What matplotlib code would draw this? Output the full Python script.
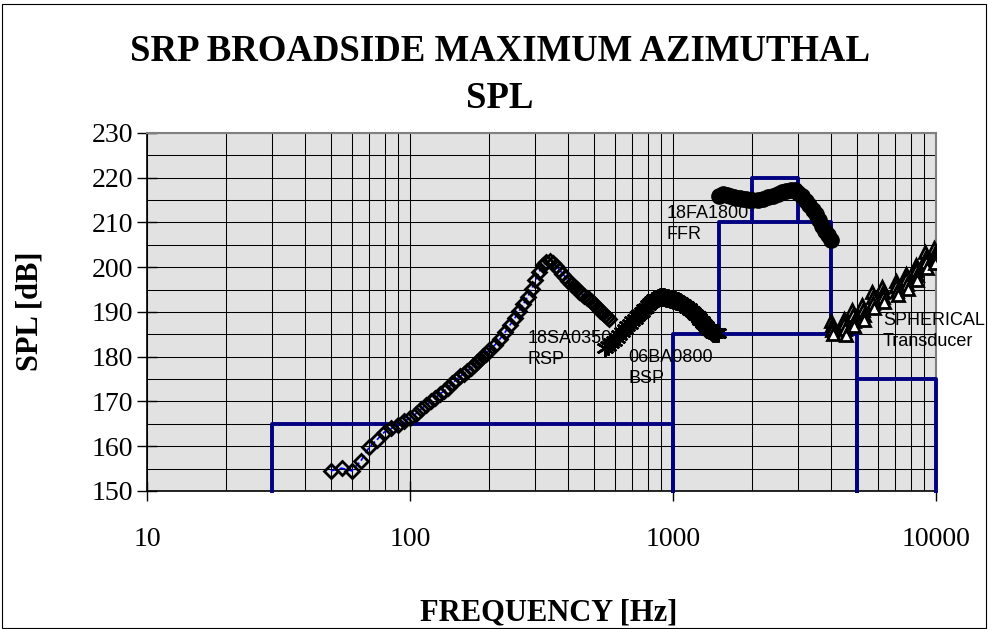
import matplotlib
matplotlib.use('Agg')
import matplotlib.pyplot as plt
from matplotlib.ticker import LogLocator, MultipleLocator, FixedLocator, NullFormatter, FixedFormatter
from matplotlib.patches import Rectangle

# 18SA0350 RSP (open diamonds, blue dashed line)
rsp_freq = [50, 55, 60, 65, 70, 75, 80, 85, 90, 95, 100, 105, 110, 115, 120, 125,
            130, 135, 140, 145, 150, 155, 160, 165, 170, 175, 180, 185, 190, 195,
            200, 210, 220, 230, 240, 250, 260, 270, 280, 290, 300, 310, 320, 330,
            340, 350, 360, 370, 380, 390, 400, 410, 420, 430, 440, 450, 460, 470,
            480, 490, 500, 510, 520, 530, 540, 550, 560, 570]
rsp_spl = [154.5, 155.1, 154.5, 156.7, 159.8, 161.5, 163.2, 164.0, 164.8, 165.6,
           166.3, 167.2, 168.3, 169.2, 170.0, 170.8, 171.7, 172.4, 173.1, 174.1,
           174.9, 175.6, 176.2, 176.8, 177.4, 178.1, 178.8, 179.4, 180.1, 180.7,
           181.4, 182.6, 184.0, 185.5, 187.1, 188.6, 190.2, 191.8, 193.4, 195.2,
           197.1, 199.0, 200.4, 201.2, 201.5, 201.0, 200.2, 199.4, 198.6, 197.8,
           197.0, 196.3, 195.7, 195.1, 194.5, 194.0, 193.6, 193.2, 192.8, 192.3,
           191.8, 191.3, 190.8, 190.3, 189.8, 189.3, 188.9, 188.5]

# 06BA0800 BSP (asterisks)
bsp_freq = [550, 565, 580, 595, 610, 625, 640, 655, 670, 685, 700, 715, 730, 745,
            760, 775, 790, 805, 820, 835, 850, 865, 880, 895, 910, 925, 940, 955,
            970, 985, 1000, 1015, 1030, 1045, 1060, 1075, 1090, 1105, 1120, 1135,
            1150, 1165, 1180, 1195, 1210, 1225, 1240, 1255, 1270, 1285, 1300, 1315,
            1330, 1345, 1360, 1375, 1390, 1405, 1420, 1435, 1450, 1465, 1480]
bsp_spl = [182.0, 182.4, 183.0, 183.6, 184.2, 184.8, 185.5, 186.1, 186.8, 187.4,
           188.0, 188.5, 189.0, 189.5, 190.0, 190.6, 191.0, 191.5, 192.0, 192.4,
           192.8, 193.0, 193.2, 193.3, 193.3, 193.3, 193.2, 193.1, 193.0, 192.9,
           192.7, 192.6, 192.5, 192.4, 192.2, 192.0, 191.8, 191.5, 191.3, 191.0,
           190.8, 190.5, 190.2, 189.9, 189.6, 189.3, 189.0, 188.7, 188.3, 188.0,
           187.6, 187.3, 186.9, 186.5, 186.2, 185.9, 185.7, 185.5, 185.4, 185.3,
           185.2, 185.2, 185.2]

# 18FA1800 FFR (filled circles)
ffr_freq = [1500, 1550, 1600, 1650, 1700, 1750, 1800, 1850, 1900, 1950, 2000, 2100,
            2200, 2300, 2400, 2500, 2600, 2700, 2800, 2900, 3000, 3100, 3200, 3300,
            3400, 3500, 3600, 3700, 3800, 3900, 4000]
ffr_spl = [216.0, 216.3, 216.2, 216.0, 215.7, 215.5, 215.4, 215.3, 215.2, 215.1,
           215.1, 215.1, 215.3, 215.6, 216.0, 216.4, 216.8, 217.1, 217.3, 217.2,
           216.7, 215.9, 214.9, 213.8, 212.8, 211.8, 210.6, 209.3, 208.2, 207.1,
           206.1]

# SPHERICAL Transducer (open triangles, stepped stacks)
sph_freq = [4000, 4020, 4040, 4060, 4450, 4480, 4510, 4540, 4800, 4830, 4860, 4890,
            5250, 5280, 5310, 5340, 5720, 5750, 5780, 5810, 6250, 6280, 6310, 6340,
            7020, 7060, 7100, 7140, 7680, 7720, 7760, 7800, 8380, 8420, 8460, 8500,
            9120, 9160, 9200, 9240, 9850, 9880, 9910, 9940]
sph_spl = [188.0, 187.0, 186.0, 185.0, 188.5, 187.3, 186.1, 184.9, 190.5, 189.3,
           188.1, 186.9, 191.5, 190.4, 189.3, 188.2, 194.5, 193.3, 192.1, 190.9,
           195.5, 194.4, 193.3, 192.2, 197.0, 195.9, 194.8, 193.7, 198.5, 197.4,
           196.3, 195.2, 200.5, 199.4, 198.3, 197.2, 203.5, 202.3, 201.1, 199.9,
           204.3, 203.2, 202.1, 201.0]

# criteria limit steps (frequency, SPL)
lim_rsp_f = [30, 30, 1000, 1000]
lim_rsp_s = [150, 165, 165, 150]
lim_bsp_f = [1000, 1000, 5000, 5000]
lim_bsp_s = [150, 185, 185, 150]
lim_ffr_f = [1500, 1500, 4000, 4000]
lim_ffr_s = [185, 210, 210, 185]
lim_ffr2_f = [2000, 2000, 3000, 3000]
lim_ffr2_s = [210, 220, 220, 210]
lim_sph_f = [5000, 5000, 10000, 10000]
lim_sph_s = [150, 175, 175, 150]

x_ticks = [10, 100, 1000, 10000]
y_ticks = [150, 160, 170, 180, 190, 200, 210, 220, 230]

plt.rcParams['font.family'] = ['Liberation Serif', 'DejaVu Serif']

W, H = 988, 629
fig = plt.figure(figsize=(W / 100, H / 100), dpi=100)
fig.patch.set_facecolor('white')
fig.patches.append(Rectangle((2 / W, 1 / H), 984 / W, 624 / H, transform=fig.transFigure,
                             fill=False, edgecolor='black', lw=0.8))

ax = fig.add_axes([147 / W, 1 - 491 / H, (936 - 147) / W, (491 - 133) / H])
ax.set_facecolor('#e2e2e2')
ax.set_xscale('log')
ax.set_xlim(10, 10000)
ax.set_ylim(150, 230)

ax.xaxis.set_major_locator(FixedLocator(x_ticks))
ax.xaxis.set_major_formatter(FixedFormatter([str(v) for v in x_ticks]))
ax.xaxis.set_minor_locator(LogLocator(base=10, subs=range(2, 10)))
ax.xaxis.set_minor_formatter(NullFormatter())
ax.yaxis.set_major_locator(FixedLocator(y_ticks))
ax.yaxis.set_minor_locator(MultipleLocator(5))
ax.grid(which='both', color='black', lw=0.75)
ax.set_axisbelow(True)

ax.tick_params(which='major', direction='inout', length=14, width=1, labelsize=20)
ax.tick_params(axis='x', which='major', pad=19)
ax.tick_params(axis='y', which='major', pad=3)
ax.tick_params(which='minor', length=0)
for s in ['left', 'bottom']:
    ax.spines[s].set_color('black')
    ax.spines[s].set_linewidth(1.2)
for s in ['top', 'right']:
    ax.spines[s].set_color('#808080')
    ax.spines[s].set_linewidth(1.5)

navy = '#000080'
for fx, sx in [(lim_rsp_f, lim_rsp_s), (lim_bsp_f, lim_bsp_s), (lim_ffr_f, lim_ffr_s),
               (lim_ffr2_f, lim_ffr2_s), (lim_sph_f, lim_sph_s)]:
    ax.plot(fx, sx, color=navy, lw=2.8, zorder=3, clip_on=False)

ax.plot(rsp_freq, rsp_spl, color='blue', ls='--', lw=1.2, marker='D', ms=7.5,
        mfc='none', mec='black', mew=2.0, zorder=4)
ax.plot(bsp_freq, bsp_spl, ls='none', marker=(6, 2, 0), ms=13, mec='black',
        mew=1.8, zorder=4)
ax.plot(ffr_freq, ffr_spl, ls='none', marker='o', ms=11, mfc='black', mec='black',
        zorder=4)
ax.plot(sph_freq, sph_spl, ls='none', marker='^', ms=9, mfc='white', mec='black',
        mew=2.0, zorder=4)

lab = dict(family=['Liberation Sans', 'DejaVu Sans'], fontsize=13, va='top', ha='left',
           linespacing=1.3, zorder=5)
ax.text(280, 186.0, '18SA0350\nRSP', **lab)
ax.text(675, 181.8, '06BA0800\nBSP', **lab)
ax.text(945, 213.8, '18FA1800\nFFR', **lab)
ax.text(6290, 190.0, 'SPHERICAL\nTransducer', **lab)

fig.text(500 / W, 1 - 34 / H, 'SRP BROADSIDE MAXIMUM AZIMUTHAL\nSPL', ha='center',
         va='top', fontsize=26.5, fontweight='bold', linespacing=1.45)
fig.text(549 / W, 1 - 613 / H, 'FREQUENCY [Hz]', ha='center', va='center',
         fontsize=22, fontweight='bold')
fig.text(30 / W, 1 - 311 / H, 'SPL [dB]', ha='center', va='center', rotation=90,
         fontsize=22, fontweight='bold')

fig.savefig('out.png', dpi=100)
